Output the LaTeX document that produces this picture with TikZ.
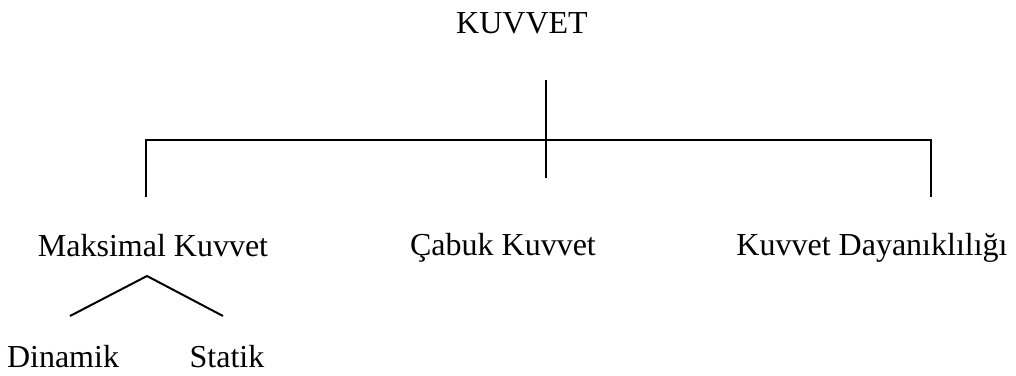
\documentclass[tikz,border=0pt]{standalone}
\usepackage{fontspec}
\setmainfont{Liberation Serif}
\usetikzlibrary{positioning,calc}
\tikzset{
  termtext/.style={anchor=base, inner sep=0pt, font=\fontsize{16}{19}\selectfont},
  treeline/.style={draw=black, line width=1pt},
}

\begin{document}
\begin{tikzpicture}[x=0.5pt, y=-0.5pt]
    \useasboundingbox (0,0) rectangle (1016,375);
    \node[termtext] (kuvvet)   at (522,33)  {KUVVET};
    \node[termtext] (maksimal) at (153,256) {Maksimal Kuvvet};
    \node[termtext] (cabuk)    at (503,255) {Çabuk Kuvvet};
    \node[termtext] (dayan)    at (872,255) {Kuvvet Dayanıklılığı};
    \node[termtext] (dinamik)  at (63,367)  {Dinamik};
    \node[termtext] (statik)   at (227,367) {Statik};
    % bracket
    \coordinate (stemTop) at (546,80);
    \coordinate (stemBot) at (546,178);
    \coordinate (barL) at (146,140);
    \coordinate (barR) at (931,140);
    \coordinate (legL) at (146,197);
    \coordinate (legR) at (931,197);
    \draw[treeline] (stemTop) -- (stemBot);
    \draw[treeline] (legL) -- (barL) -- (barR) -- (legR);
    % split of Maksimal Kuvvet
    \coordinate (apex) at (147,276);
    \coordinate (dinTop) at (70,316);
    \coordinate (staTop) at (223,316);
    \draw[treeline] (dinTop) -- (apex) -- (staTop);
\end{tikzpicture}
\end{document}
